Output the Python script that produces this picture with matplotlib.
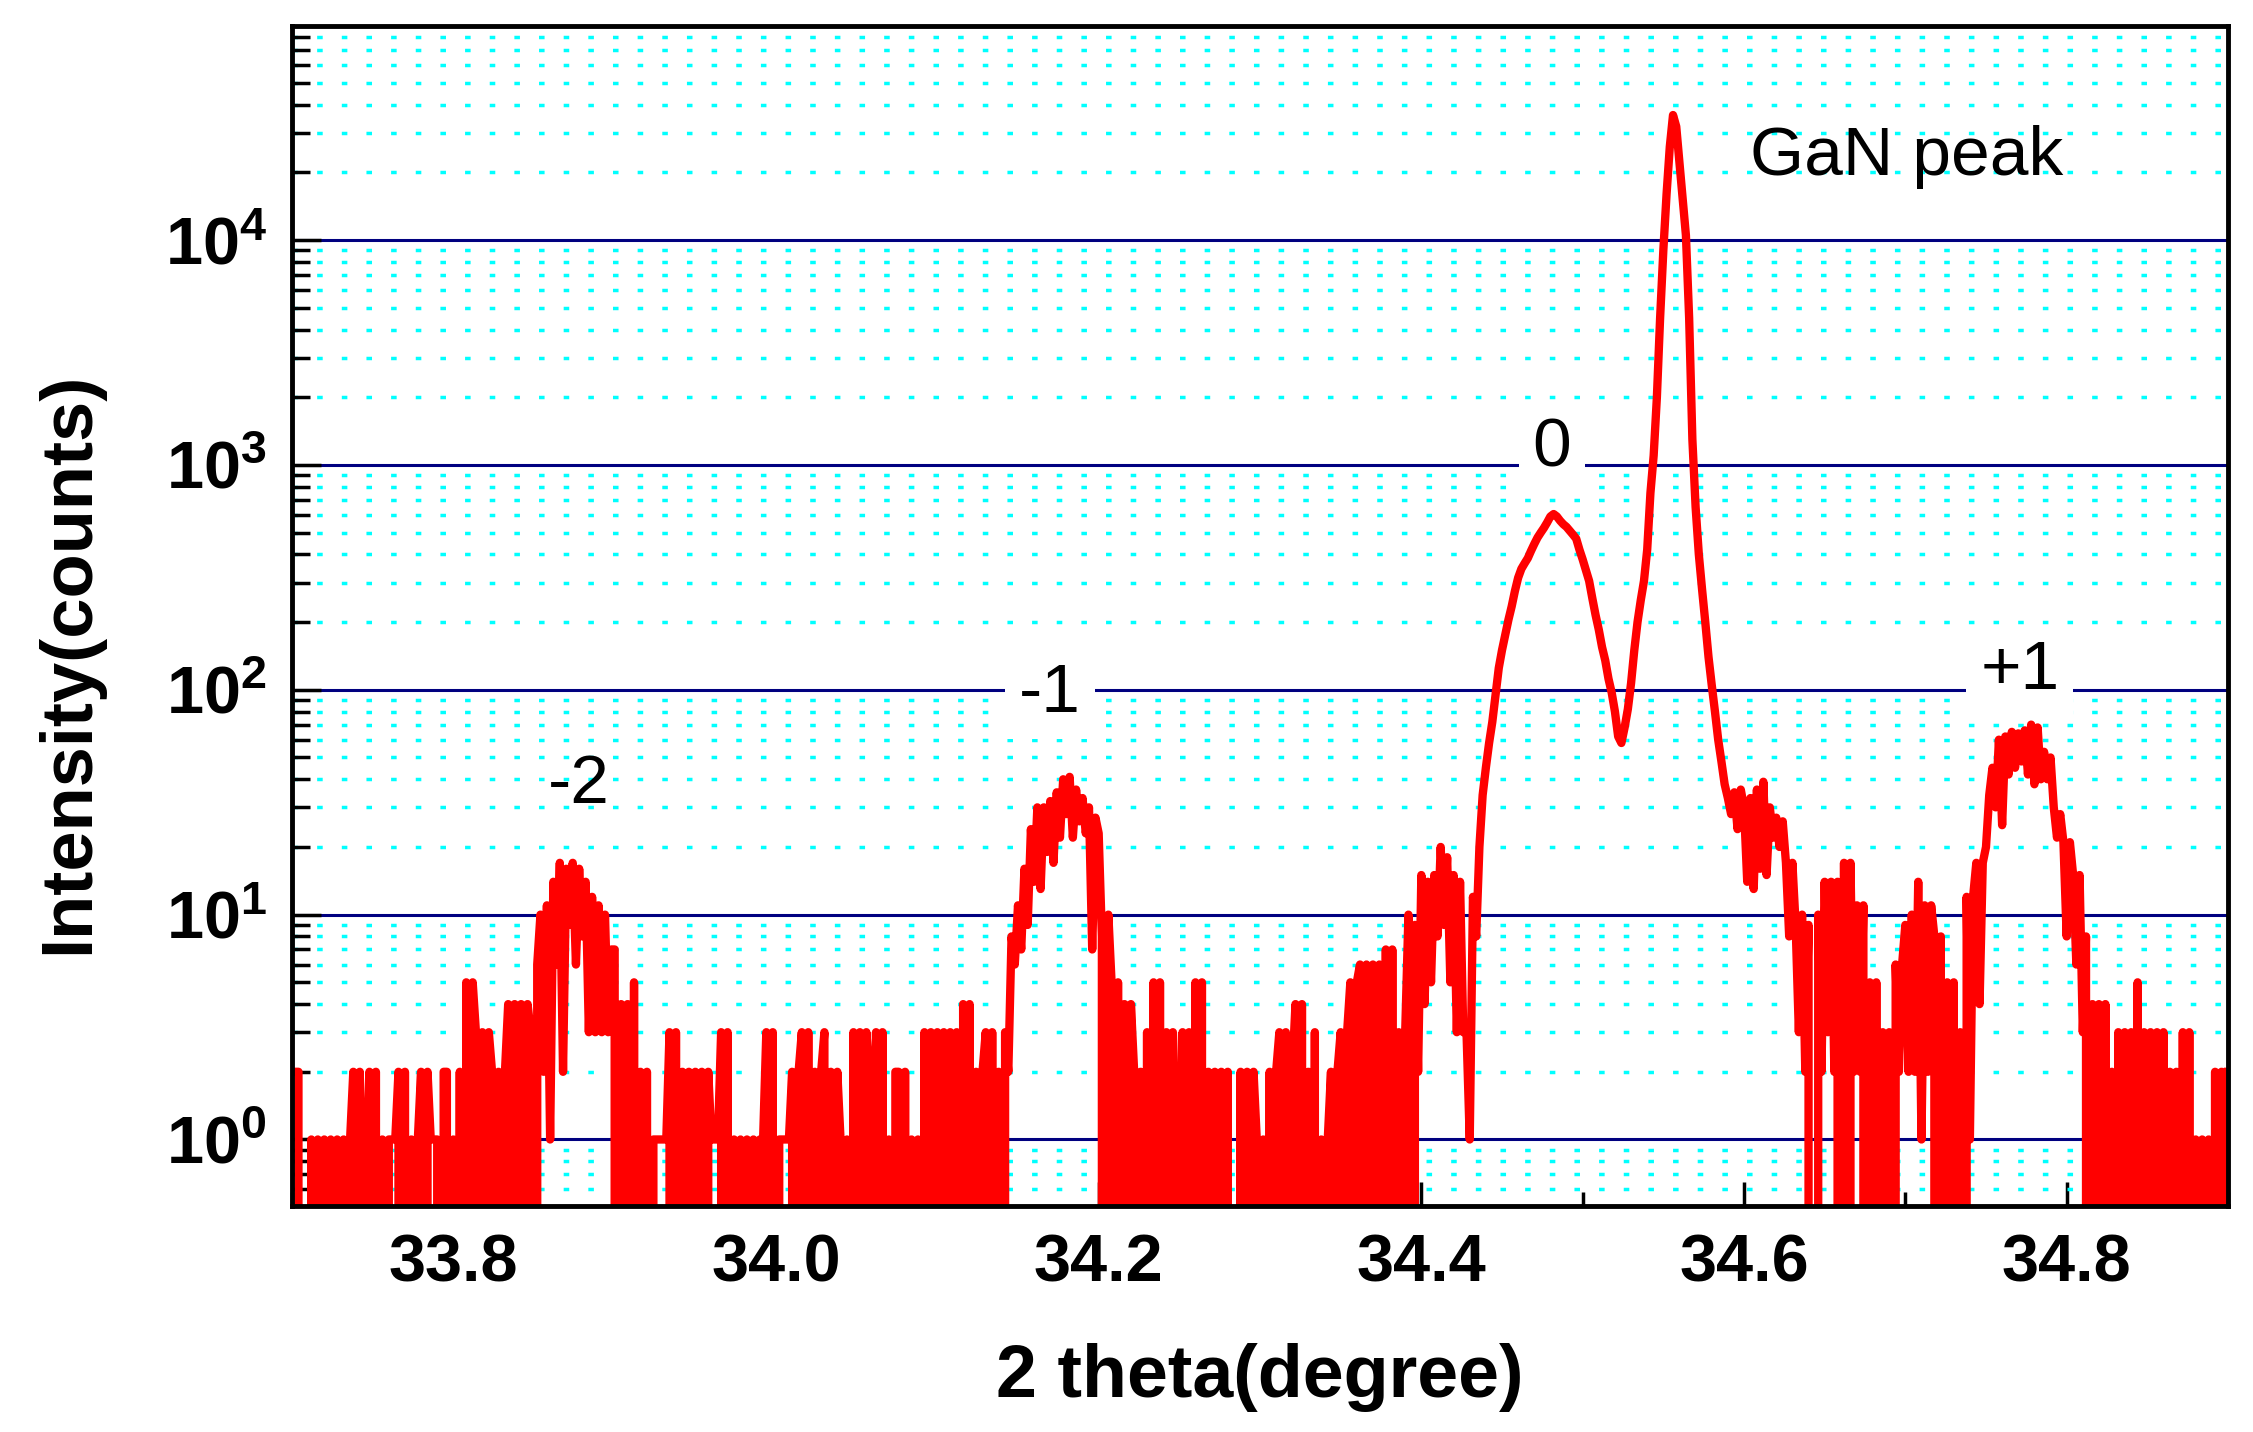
import numpy as np
import matplotlib
matplotlib.use('Agg')
import matplotlib.pyplot as plt
from matplotlib.ticker import MultipleLocator, FormatStrFormatter, LogLocator, NullFormatter

plt.rcParams['font.family'] = ['Liberation Sans', 'DejaVu Sans']
plt.rcParams['mathtext.fontset'] = 'custom'
plt.rcParams['mathtext.rm'] = 'Liberation Sans'
plt.rcParams['mathtext.bf'] = 'Liberation Sans:bold'

# XRD scan: 2theta grid (start / step) and counts
scan_start = 33.700
scan_step = 0.002
counts = [
    # 33.700
    2, 2, 2, 0, 0, 0, 1, 0, 1, 0, 1, 0, 1, 0, 1, 0, 1, 0, 1, 2, 0, 2, 0, 1, 2,
    # 33.750
    0, 2, 0, 1, 0, 1, 1, 1, 2, 0, 2, 0, 1, 0, 1, 2, 0, 2, 1, 1, 1, 0, 2, 2, 0,
    # 33.800
    1, 0, 2, 0, 5, 0, 5, 3, 0, 3, 0, 3, 2, 0, 2, 0, 2, 4, 0, 4, 0, 4, 0, 4, 3,
    # 33.850  (-2 satellite)
    0, 6, 10, 2, 11, 1, 14, 6, 17, 2, 16, 9, 17, 6, 16, 8, 14, 3, 12, 3, 11, 3, 10, 3, 7,
    # 33.900
    7, 0, 4, 0, 4, 0, 5, 0, 2, 0, 2, 0, 1, 1, 1, 1, 1, 3, 0, 3, 0, 2, 0, 2, 0,
    # 33.950
    2, 0, 2, 0, 2, 1, 1, 1, 3, 0, 3, 0, 1, 0, 1, 0, 1, 0, 1, 0, 1, 1, 3, 0, 3,
    # 34.000
    0, 1, 1, 1, 1, 2, 0, 2, 3, 0, 3, 0, 2, 0, 2, 3, 0, 2, 0, 2, 1, 0, 1, 0, 3,
    # 34.050
    0, 3, 0, 3, 2, 0, 3, 0, 3, 0, 1, 0, 2, 2, 0, 2, 0, 1, 0, 1, 0, 3, 0, 3, 0,
    # 34.100
    3, 0, 3, 0, 3, 0, 3, 0, 4, 0, 4, 0, 2, 0, 2, 3, 0, 3, 0, 2, 0, 3, 2, 8, 6,
    # 34.150  (-1 satellite)
    11, 7, 16, 9, 24, 14, 30, 13, 30, 19, 32, 17, 35, 22, 40, 28, 41, 22, 36, 26, 33, 23, 30, 7, 27,
    # 34.200
    23, 8, 0, 10, 5, 0, 5, 0, 4, 0, 4, 2, 0, 2, 0, 3, 0, 5, 0, 5, 0, 3, 0, 3, 1,
    # 34.250
    0, 3, 0, 3, 0, 5, 0, 5, 0, 2, 0, 2, 0, 2, 0, 2, 0, 0, 0, 2, 0, 2, 0, 2, 1,
    # 34.300
    0, 1, 0, 2, 0, 2, 3, 0, 3, 0, 2, 4, 0, 4, 0, 2, 0, 3, 0, 1, 0, 1, 2, 0, 2,
    # 34.350
    3, 0, 3, 5, 0, 5, 6, 0, 6, 0, 6, 0, 6, 0, 7, 0, 7, 0, 3, 0, 3, 10, 0, 9, 2,
    # 34.400
    15, 4, 14, 5, 15, 8, 20, 9, 18, 5, 15, 3, 14, 3, 3, 1, 12, 8, 20, 34, 45, 58, 72, 95, 125,
    # 34.450  (0 order)
    150, 175, 205, 235, 275, 315, 345, 365, 385, 415, 445, 475, 500, 525, 555,
    590, 605, 590, 565, 545, 530, 510, 490, 470, 420,
    # 34.500
    380, 340, 305, 255, 215, 185, 155, 135, 112, 97, 80, 62, 58, 68, 82,
    107, 150, 200, 250, 305, 420, 750, 1100, 2000, 4500,
    # 34.550  (GaN)
    9000, 16000, 26000, 36000, 32000, 22000, 15000, 10500, 4500, 1300,
    650, 400, 280, 200, 140, 105, 80, 60, 48, 38, 33, 28, 35, 24, 36,
    # 34.600
    30, 14, 33, 13, 36, 16, 39, 15, 30, 22, 27, 20, 26, 17, 8, 17, 9, 3, 10, 2, 9, 0, 0, 10, 2,
    # 34.650
    14, 3, 14, 2, 14, 0, 17, 0, 17, 2, 11, 2, 11, 0, 5, 0, 5, 0, 3, 0, 3, 0, 6, 2, 6,
    # 34.700
    9, 2, 10, 2, 14, 1, 11, 2, 11, 8, 0, 8, 0, 5, 0, 5, 0, 3, 0, 12, 1, 12, 17, 4, 17,
    # 34.750  (+1 satellite)
    20, 34, 45, 30, 60, 25, 62, 42, 65, 45, 64, 48, 66, 42, 70, 38, 68, 40, 53, 40, 50, 30, 22, 28, 21,
    # 34.800
    8, 21, 15, 6, 15, 3, 8, 0, 4, 0, 4, 0, 4, 0, 2, 0, 3, 0, 3, 0, 3, 0, 5, 0, 3,
    # 34.850
    0, 3, 0, 3, 0, 3, 0, 2, 0, 2, 0, 3, 0, 3, 0, 1, 0, 1, 0, 1, 0, 2, 0, 2, 0,
    # 34.900
    2,
]
two_theta = np.round(scan_start + scan_step * np.arange(len(counts)), 3)

x_ticks = [33.8, 34.0, 34.2, 34.4, 34.6, 34.8]
y_ticks = [1, 10, 100, 1000, 10000]
y_ticklabels = [r'$\mathbf{10^{0}}$', r'$\mathbf{10^{1}}$', r'$\mathbf{10^{2}}$',
                r'$\mathbf{10^{3}}$', r'$\mathbf{10^{4}}$']

# peak annotations (text, 2theta, counts at baseline, white box behind)
peak_text = ['GaN peak', '0', '-1', '-2', '+1']
peak_x = [34.701, 34.481, 34.170, 33.878, 34.771]
peak_y = [19500, 980, 80, 31.3, 101]
peak_boxed = [False, True, True, False, True]

fig = plt.figure(figsize=(22.53, 14.32), dpi=100)
ax = fig.add_axes([292 / 2253, 1 - 1206 / 1432, 1936 / 2253, 1180 / 1432])
ax.set_yscale('log', nonpositive='clip')

ax.plot(two_theta, counts, color='#ff0000', lw=6, zorder=3)

ax.set_xlim(33.7, 34.9)
ax.set_ylim(0.506, 8.96e4)

# grid: navy at decades, cyan dots at minors
ax.grid(which='major', axis='y', color='#000080', lw=2.2)
ax.grid(which='minor', axis='y', color='#00ffff', lw=2.5, ls=(0, (1.6, 5.5)))
ax.grid(which='major', axis='x', visible=False)

ax.set_xticks(x_ticks)
ax.xaxis.set_minor_locator(MultipleLocator(0.1))
ax.xaxis.set_major_formatter(FormatStrFormatter('%.1f'))
ax.set_yticks(y_ticks)
ax.set_yticklabels(y_ticklabels)
ax.yaxis.set_minor_locator(LogLocator(base=10, subs=np.arange(2, 10)))
ax.yaxis.set_minor_formatter(NullFormatter())

ax.tick_params(axis='y', which='major', direction='in', length=21, width=2.5,
               labelsize=48, pad=18)
ax.tick_params(axis='y', which='minor', direction='in', length=13, width=2.5)
ax.tick_params(axis='x', which='major', direction='in', length=17, width=2.5,
               labelsize=48, pad=20)
ax.tick_params(axis='x', which='minor', direction='in', length=10, width=2.5)
for lab in ax.get_xticklabels():
    lab.set_fontweight('bold')

for sp in ax.spines.values():
    sp.set_linewidth(3.5)
    sp.set_color('black')
    sp.set_zorder(5)

ax.set_xlabel('2 theta(degree)', fontsize=53, fontweight='bold', labelpad=34)
ax.set_ylabel('Intensity(counts)', fontsize=52, fontweight='bold')
ax.yaxis.set_label_coords(-0.0976, 0.46)

for t, x, y, b in zip(peak_text, peak_x, peak_y, peak_boxed):
    box = dict(boxstyle='square,pad=0.2', facecolor='white', edgecolor='none') if b else None
    ax.text(x, y, t, fontsize=50, ha='center', va='baseline', bbox=box, zorder=2.8)

fig.savefig('out.png', dpi=100)
